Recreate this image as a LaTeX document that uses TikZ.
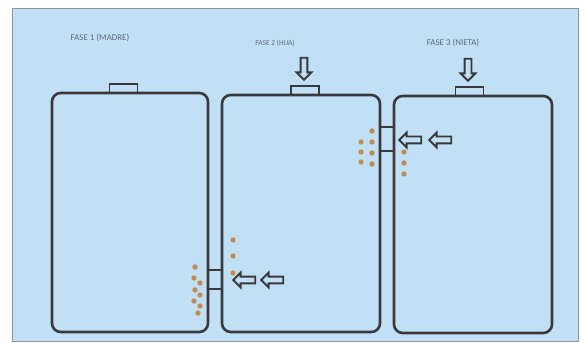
\documentclass[tikz,border=0pt]{standalone}
\usepackage{fontspec}
\setsansfont{Carlito}
\usepackage{xcolor}
\usepackage{tikz}
\usetikzlibrary{positioning, arrows.meta, shapes.arrows}
\definecolor{skyback}{RGB}{193,224,245}
\definecolor{framegrey}{RGB}{140,150,160}
\definecolor{wallgrey}{RGB}{58,56,58}
\definecolor{labelgrey}{RGB}{95,105,118}
\definecolor{bubblebrown}{RGB}{190,142,82}

\begin{document}
\begin{tikzpicture}[
    x=0.3mm, y=-0.3mm,
    every node/.style={font=\sffamily},
    tank/.style={rectangle, rounded corners=2.6mm, draw=wallgrey, line width=2.2pt, outer sep=0pt},
    tankcap/.style={rectangle, draw=wallgrey, line width=1.6pt, minimum width=8.4mm, minimum height=2.7mm,
                inner sep=0pt, outer sep=0pt, anchor=south},
    pipe/.style={draw=wallgrey, line width=1.6pt},
    phase/.style={font=\fontsize{7.6}{8}\sffamily, text=labelgrey},
    flowarr/.style={single arrow, draw=wallgrey, fill=skyback, line width=1.6pt,
                    minimum height=6.6mm, minimum width=4.4mm, inner sep=0.6mm,
                    single arrow head extend=1.0mm},
    bubble/.style={fill=bubblebrown},
  ]

  % ============ BACKGROUND PANEL ============
  \useasboundingbox (0,0) rectangle (585,343);
  \draw[framegrey, line width=0.8pt, fill=skyback] (12,8) rectangle (578,341);

  % ============ PHASE LABELS ============
  \node[phase] (lbl1) at (100,38) {FASE 1 (MADRE)};
  \node[phase, font=\fontsize{6.4}{7}\sffamily] (lbl2) at (275,43) {FASE 2 (HIJA)};
  \node[phase] (lbl3) at (453,43) {FASE 3 (NIETA)};

  % ============ TANKS ============
  \node[tank, minimum width=46.8mm, minimum height=71.7mm] (t1) at (130,212.5) {};
  \node[tank, minimum width=47.4mm, minimum height=71.1mm] (t2) at (301,213.5) {};
  \node[tank, minimum width=47.4mm, minimum height=71.1mm] (t3) at (473,214.5) {};

  % caps on top of each tank
  \node[tankcap] (c1) at (123.5,93) {};
  \node[tankcap] (c2) at (305,95) {};
  \node[tankcap] (c3) at (469.5,96) {};

  % ============ PIPES BETWEEN TANKS ============
  \draw[pipe] (t1.east |- 0,270) -- (t2.west |- 0,270);
  \draw[pipe] (t1.east |- 0,289) -- (t2.west |- 0,289);
  \draw[pipe] (t2.east |- 0,127) -- (t3.west |- 0,127);
  \draw[pipe] (t2.east |- 0,151) -- (t3.west |- 0,151);

  % ============ FEED ARROWS ============
  \node[flowarr, shape border rotate=270] (in2) at (304,67) {};
  \node[flowarr, shape border rotate=270] (in3) at (468,68) {};

  % transfer arrows pointing at the pipes
  \node[flowarr, shape border rotate=180] (mv1a) at (246,280) {};
  \node[flowarr, shape border rotate=180] (mv1b) at (274,280) {};
  \node[flowarr, shape border rotate=180] (mv2a) at (412,140) {};
  \node[flowarr, shape border rotate=180] (mv2b) at (442,140) {};

  % ============ BUBBLES ============
  % first pipe: inside tank 1, then inside tank 2
  \fill[bubble] (195,267) circle[radius=0.8mm] (194,278) circle[radius=0.8mm]
    (200,283) circle[radius=0.8mm] (195,290) circle[radius=0.8mm]
    (200,295) circle[radius=0.8mm] (194,301) circle[radius=0.8mm]
    (200,306) circle[radius=0.8mm] (198,313) circle[radius=0.8mm];
  \fill[bubble] (233,240) circle[radius=0.8mm] (233,256) circle[radius=0.8mm]
    (233,273) circle[radius=0.8mm];

  % second pipe: inside tank 2, then inside tank 3
  \fill[bubble] (372,131) circle[radius=0.8mm] (361,142) circle[radius=0.8mm]
    (372,142) circle[radius=0.8mm] (361,152) circle[radius=0.8mm]
    (372,153) circle[radius=0.8mm] (361,162) circle[radius=0.8mm]
    (372,164) circle[radius=0.8mm];
  \fill[bubble] (404,152) circle[radius=0.8mm] (404,163) circle[radius=0.8mm]
    (404,174) circle[radius=0.8mm];

\end{tikzpicture}
\end{document}
